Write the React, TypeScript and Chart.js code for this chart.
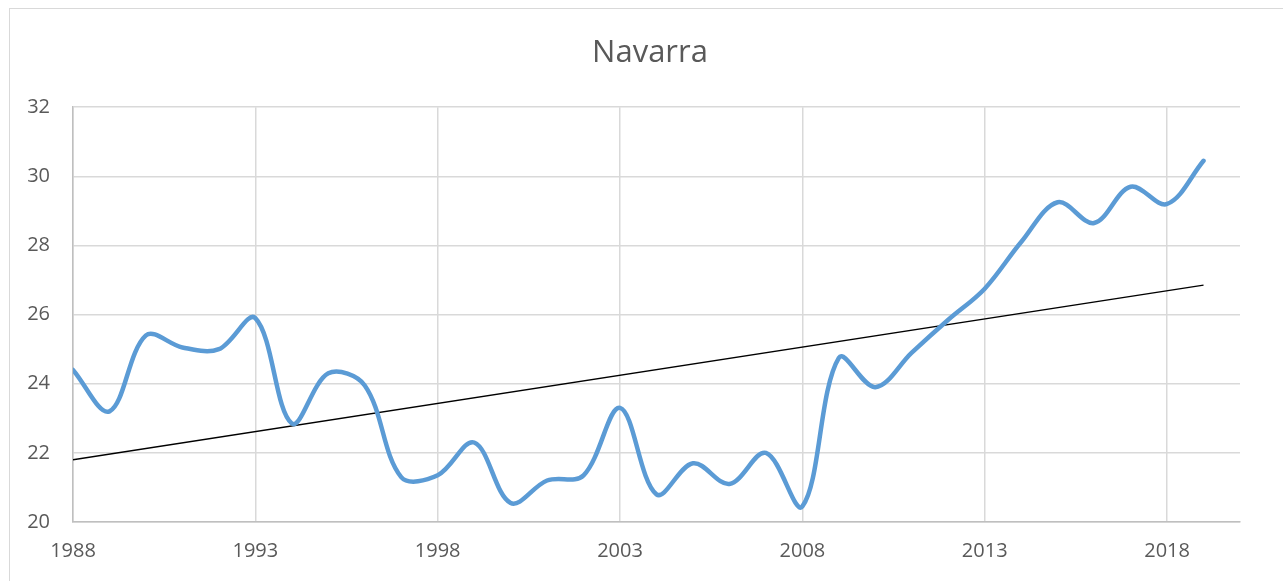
import React, { useEffect, useRef } from "react";
import { Chart, registerables } from "chart.js";

Chart.register(...registerables);

const chartTitle = "Navarra";
const years = [
  1988, 1989, 1990, 1991, 1992, 1993, 1994, 1995, 1996, 1997, 1998, 1999, 2000, 2001, 2002, 2003,
  2004, 2005, 2006, 2007, 2008, 2009, 2010, 2011, 2012, 2013, 2014, 2015, 2016, 2017, 2018, 2019,
];
const values = [
  24.4, 23.2, 25.4, 25.05, 25.0, 25.9, 22.85, 24.3, 23.95, 21.3, 21.35, 22.3, 20.55, 21.2, 21.35, 23.3,
  20.8, 21.7, 21.1, 22.0, 20.45, 24.75, 23.9, 24.9, 25.85, 26.75, 28.1, 29.25, 28.65, 29.7, 29.2, 30.45,
];
const trendYears = [1988, 2019];
const trendValues = [21.8, 26.85];
const xTickValues = [1988, 1993, 1998, 2003, 2008, 2013, 2018];
const xMin = 1988;
const xMax = 2020;
const yMin = 20;
const yMax = 32;
const yStep = 2;

const FONT = "'Open Sans', 'DejaVu Sans', sans-serif";
const TEXT = "#595959";
const GRID = "#d9d9d9";

export default function App() {
  const ref = useRef<HTMLCanvasElement>(null);

  useEffect(() => {
    if (!ref.current) return;
    const chart = new Chart(ref.current, {
      type: "line",
      data: {
        datasets: [
          {
            data: years.map((y, i) => ({ x: y, y: values[i] })),
            borderColor: "#5b9bd5",
            borderWidth: 4.5,
            tension: 0.35,
            pointRadius: 0,
            borderCapStyle: "round",
            borderJoinStyle: "round",
            fill: false,
          },
          {
            data: trendYears.map((y, i) => ({ x: y, y: trendValues[i] })),
            borderColor: "#000000",
            borderWidth: 1.3,
            tension: 0,
            pointRadius: 0,
            fill: false,
          },
        ],
      },
      options: {
        animation: false,
        responsive: true,
        maintainAspectRatio: false,
        layout: { padding: { left: 0, right: 0, top: 0, bottom: 0 } },
        plugins: {
          legend: { display: false },
          tooltip: { enabled: false },
          title: {
            display: true,
            text: chartTitle,
            color: TEXT,
            font: { family: FONT, size: 31, weight: "normal" },
            padding: { top: 35, bottom: 35 },
          },
        },
        scales: {
          x: {
            type: "linear",
            min: xMin,
            max: xMax,
            afterBuildTicks: (scale: any) => {
              scale.ticks = xTickValues.map((v) => ({ value: v }));
            },
            afterFit: (scale: any) => {
              scale.height = 59;
            },
            grid: { color: GRID, lineWidth: 1.5, drawTicks: false },
            border: { color: "#bfbfbf", width: 1.5 },
            ticks: {
              color: TEXT,
              font: { family: FONT, size: 20 },
              padding: 17,
              maxRotation: 0,
              autoSkip: false,
              callback: (v: any) => String(v),
            },
          },
          y: {
            min: yMin,
            max: yMax,
            afterFit: (scale: any) => {
              scale.width = 73;
            },
            grid: { color: GRID, lineWidth: 1.5, drawTicks: false },
            border: { color: "#bfbfbf", width: 1.5 },
            ticks: {
              stepSize: yStep,
              color: TEXT,
              font: { family: FONT, size: 20 },
              padding: 23,
              callback: (v: any) => String(v),
            },
          },
          yRightSpace: {
            position: "right",
            min: 0,
            max: 1,
            afterFit: (scale: any) => {
              scale.width = 60;
            },
            grid: { display: false, drawTicks: false },
            border: { display: false },
            ticks: { display: false },
          },
        },
      },
    });
    return () => chart.destroy();
  }, []);

  return (
    <div
      style={{
        position: "fixed",
        left: 0,
        top: 0,
        width: 1283,
        height: 581,
        overflow: "hidden",
        background: "#ffffff",
      }}
    >
      <div
        style={{
          position: "absolute",
          left: 9,
          top: 8,
          width: 1400,
          height: 700,
          border: "1.5px solid #d9d9d9",
          boxSizing: "border-box",
        }}
      />
      <div style={{ position: "absolute", left: 0, top: 0, width: 1300, height: 581 }}>
        <canvas ref={ref} />
      </div>
    </div>
  );
}
